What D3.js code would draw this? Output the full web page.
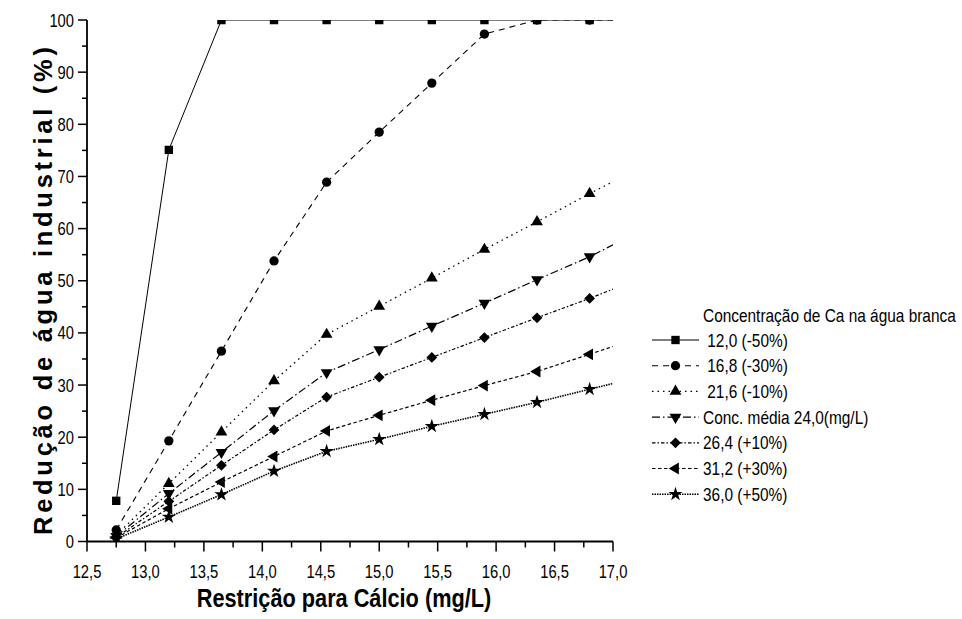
<!DOCTYPE html>
<html><head><meta charset="utf-8">
<script src="https://cdn.jsdelivr.net/npm/d3@7"></script>
<style>html,body{margin:0;padding:0;background:#fff;}svg{display:block;}text{font-family:"Liberation Sans",Arial,sans-serif;fill:#000;}</style>
</head><body>
<svg id="c" width="962" height="619"></svg>
<script>
// ---- data ----
const xValues = [12.75, 13.2, 13.65, 14.1, 14.55, 15.0, 15.45, 15.9, 16.35, 16.8, 17.0]; // last value = line reaching the right edge (no marker)
const seriesNames = [" 12,0 (-50%)", " 16,8 (-30%)", " 21,6 (-10%)", "Conc. média 24,0(mg/L)", "26,4 (+10%)", "31,2 (+30%)", "36,0 (+50%)"];
const s120 = [7.8, 75.1, 100, 100, 100, 100, 100, 100, 100, 100, 100];
const s168 = [2.2, 19.3, 36.5, 53.8, 68.9, 78.5, 87.9, 97.3, 100, 100, 100];
const s216 = [1.2, 11.1, 21.0, 30.8, 39.7, 45.1, 50.5, 56.0, 61.3, 66.7, 69.0];
const s240 = [1.0, 9.2, 17.1, 25.1, 32.4, 36.8, 41.3, 45.7, 50.2, 54.6, 56.9];
const s264 = [0.8, 7.7, 14.6, 21.4, 27.7, 31.5, 35.3, 39.1, 42.9, 46.6, 48.4];
const s312 = [0.7, 6.3, 11.4, 16.3, 21.2, 24.2, 27.1, 29.9, 32.6, 35.9, 37.4];
const s360 = [0.5, 4.7, 9.0, 13.5, 17.3, 19.6, 22.1, 24.4, 26.7, 29.2, 30.3];
const xTickLabels = ["12,5","13,0","13,5","14,0","14,5","15,0","15,5","16,0","16,5","17,0"];
const yTickLabels = ["0","10","20","30","40","50","60","70","80","90","100"];
const xTitle = "Restrição para Cálcio (mg/L)";
const yTitle = "Redução de água industrial (%)";
const legendTitle = "Concentração de Ca na água branca";

// ---- layout ----
const svg = d3.select("#c");
const L = 87, R = 613, T = 20, B = 541.5;
const x = d3.scaleLinear().domain([12.5, 17.0]).range([L, R]);
const y = d3.scaleLinear().domain([0, 100]).range([B, T]);
const NARROW = 0.82;
function ntext(parent, tx, ty, str, size, anchor, weight){
  return parent.append("text").attr("transform",`translate(${tx},${ty}) scale(${NARROW},1)`)
    .attr("text-anchor",anchor||"start").attr("font-size",size).attr("font-weight",weight||"normal")
    .style("white-space","pre").text(str);
}

const seriesVals = [s120, s168, s216, s240, s264, s312, s360];
const dashes = [null, "6,5", "1.5,4", "8,3,1.5,3", "3.5,2,1.5,2", "3.5,2.5", "1.5,1"];
const widths = [1, 1.1, 1.3, 1.2, 1.2, 1.2, 1.6];
const sym = [
  {t:d3.symbolSquare, s:70, r:0},
  {t:d3.symbolCircle, s:68, r:0},
  {t:d3.symbolTriangle, s:60, r:0},
  {t:d3.symbolTriangle, s:60, r:180},
  {t:d3.symbolSquare, s:58, r:45},
  {t:d3.symbolTriangle, s:60, r:-90},
  {t:d3.symbolStar, s:62, r:0}
];

svg.append("defs").append("clipPath").attr("id","plot").append("rect").attr("x",L).attr("y",T).attr("width",R-L).attr("height",B-T);
const plot = svg.append("g").attr("clip-path","url(#plot)");
const line = d3.line().x((d,i)=>x(xValues[i])).y(d=>y(d));

seriesVals.forEach((vals,k)=>{
  plot.append("path").attr("d", line(vals)).attr("fill","none").attr("stroke","#000")
    .attr("stroke-width", widths[k]).attr("stroke-dasharray", dashes[k]);
});
seriesVals.forEach((vals,k)=>{
  const g = plot.append("g");
  vals.forEach((v,i)=>{
    if (xValues[i] >= 17) return;
    g.append("path").attr("d", d3.symbol().type(sym[k].t).size(sym[k].s)())
      .attr("transform", `translate(${x(xValues[i])},${y(v)}) rotate(${sym[k].r})`).attr("fill","#000");
  });
});

// axes
const xAxis = svg.append("g").attr("transform",`translate(0,${B})`);
d3.range(12.5, 17.001, 0.25).forEach(v=>{
  const major = Math.abs(v*2 - Math.round(v*2))<1e-6;
  xAxis.append("line").attr("x1",x(v)).attr("x2",x(v)).attr("y1",0).attr("y2",major?10:6).attr("stroke","#000").attr("stroke-width",1.5);
});
xAxis.append("line").attr("x1",L).attr("x2",R).attr("stroke","#000").attr("stroke-width",1.8);
xTickLabels.forEach((t,i)=>{ ntext(xAxis, x(12.5+0.5*i), 36.5, t, 18, "middle"); });
const yAxis = svg.append("g").attr("transform",`translate(${L},0)`);
d3.range(0, 100.001, 5).forEach(v=>{
  const major = v%10===0;
  yAxis.append("line").attr("x1",0).attr("x2",major?-9:-5).attr("y1",y(v)).attr("y2",y(v)).attr("stroke","#000").attr("stroke-width",1.5);
});
yAxis.append("line").attr("y1",T).attr("y2",B).attr("stroke","#000").attr("stroke-width",1.8);
yTickLabels.forEach((t,i)=>{ ntext(yAxis, -13, y(i*10)+6.5, t, 18, "end"); });

// titles
ntext(svg, (L+R)/2-6, 607, xTitle, 26.5, "middle", "bold");
svg.append("text").attr("transform",`translate(52,291) rotate(-90)`).attr("text-anchor","middle").attr("font-size",25.5).attr("font-weight","bold")
  .attr("textLength",488).attr("lengthAdjust","spacing").text(yTitle);

// legend
const lg = svg.append("g");
ntext(lg, 703, 322, legendTitle, 18.8);
seriesNames.forEach((n,k)=>{
  const cy = 340 + 25.7*k;
  lg.append("line").attr("x1",652).attr("x2",699).attr("y1",cy).attr("y2",cy).attr("stroke","#000")
    .attr("stroke-width",widths[k]).attr("stroke-dasharray",dashes[k]);
  lg.append("path").attr("d", d3.symbol().type(sym[k].t).size(sym[k].s)())
    .attr("transform",`translate(675.5,${cy}) rotate(${sym[k].r})`).attr("fill","#000");
  ntext(lg, 703, cy+6.5, n, 18.8);
});
</script>
</body></html>
